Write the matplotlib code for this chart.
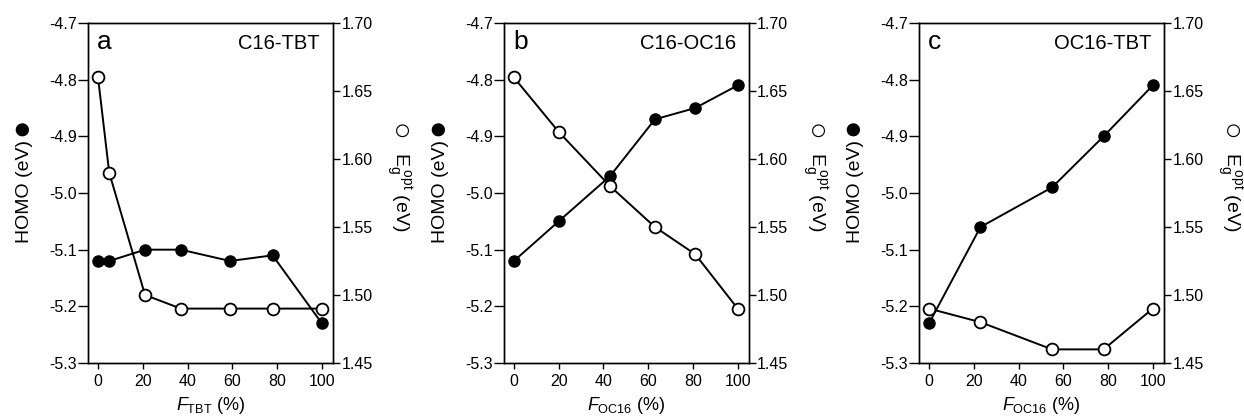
import numpy as np
import matplotlib
matplotlib.use('Agg')
import matplotlib.pyplot as plt
from matplotlib import rc
from matplotlib.ticker import FormatStrFormatter

rc('font', family='Liberation Sans', size=11.5)
rc('mathtext', fontset='custom', rm='Liberation Sans', it='Liberation Sans:italic')

# panel a: C16-TBT
x_homo_a = [0, 5, 21, 37, 59, 78, 100]
homo_a = [-5.12, -5.12, -5.10, -5.10, -5.12, -5.11, -5.23]
x_eg_a = [0, 5, 21, 37, 59, 78, 100]
eg_a = [1.66, 1.59, 1.50, 1.49, 1.49, 1.49, 1.49]

# panel b: C16-OC16
x_homo_b = [0, 20, 43, 63, 81, 100]
homo_b = [-5.12, -5.05, -4.97, -4.87, -4.85, -4.81]
x_eg_b = [0, 20, 43, 63, 81, 100]
eg_b = [1.66, 1.62, 1.58, 1.55, 1.53, 1.49]

# panel c: OC16-TBT
x_homo_c = [0, 23, 55, 78, 100]
homo_c = [-5.23, -5.06, -4.99, -4.90, -4.81]
x_eg_c = [0, 23, 55, 78, 100]
eg_c = [1.49, 1.48, 1.46, 1.46, 1.49]

letters = ['a', 'b', 'c']
titles = ['C16-TBT', 'C16-OC16', 'OC16-TBT']
xlabels = [r'$F_{\mathrm{TBT}}$ (%)', r'$F_{\mathrm{OC16}}$ (%)', r'$F_{\mathrm{OC16}}$ (%)']

fig = plt.figure(figsize=(12.44, 4.19), dpi=100)
lefts = [0.0707, 0.405, 0.7387]
w = 0.197
bottom, top = 0.1337, 0.945

panels = [(x_homo_a, homo_a, x_eg_a, eg_a),
          (x_homo_b, homo_b, x_eg_b, eg_b),
          (x_homo_c, homo_c, x_eg_c, eg_c)]

for i, (xh, h, xe, e) in enumerate(panels):
    ax1 = fig.add_axes([lefts[i], bottom, w, top - bottom])
    ax2 = ax1.twinx()

    ax1.plot(xh, h, '-o', c='k', lw=1.4, ms=8, mfc='k', mec='k', clip_on=False)
    ax2.plot(xe, e, '-o', c='k', lw=1.4, ms=8.5, mfc='white', mec='k', mew=1.3, clip_on=False)

    ax1.set_xlim(-4.5, 105)
    ax1.set_ylim(-5.3, -4.7)
    ax2.set_ylim(1.45, 1.70)
    ax1.set_xticks(np.arange(0, 101, 20))
    ax1.set_yticks(np.arange(-5.3, -4.69, 0.1))
    ax2.set_yticks(np.arange(1.45, 1.701, 0.05))
    ax1.yaxis.set_major_formatter(FormatStrFormatter('%.1f'))
    ax2.yaxis.set_major_formatter(FormatStrFormatter('%.2f'))

    for ax in (ax1, ax2):
        for s in ax.spines.values():
            s.set_linewidth(1)
    ax1.tick_params(axis='y', direction='out', length=7, width=1, labelsize=11.5, pad=1)
    ax1.tick_params(axis='x', direction='out', length=4, width=1, labelsize=11.5, pad=4, top=False)
    ax2.tick_params(axis='y', direction='out', length=5, width=1, labelsize=11.5, pad=1)

    # left axis label with filled symbol
    ax1.text(-0.26, 0.505, 'HOMO (eV)', transform=ax1.transAxes, rotation=90,
             ha='center', va='center', fontsize=14)
    ax1.text(-0.27, 0.694, '\u25cf', transform=ax1.transAxes, rotation=90,
             ha='center', va='center', fontsize=22)

    # right axis label with open symbol
    ax2.text(1.265, 0.505, r'$\mathrm{E}_{\mathrm{g}}^{\ \mathrm{opt}}$ (eV)', transform=ax2.transAxes,
             rotation=270, ha='center', va='center', fontsize=14)
    ax2.text(1.268, 0.68, '\u25cb', transform=ax2.transAxes, rotation=270,
             ha='center', va='center', fontsize=21)

    ax1.set_xlabel(xlabels[i], fontsize=13, labelpad=4)

    ax1.text(0.037, 0.923, letters[i], transform=ax1.transAxes, fontsize=19, va='baseline', ha='left')
    ax1.text(0.947, 0.923, titles[i], transform=ax1.transAxes, fontsize=14.5, va='baseline', ha='right')

plt.savefig('out.png', dpi=100)
